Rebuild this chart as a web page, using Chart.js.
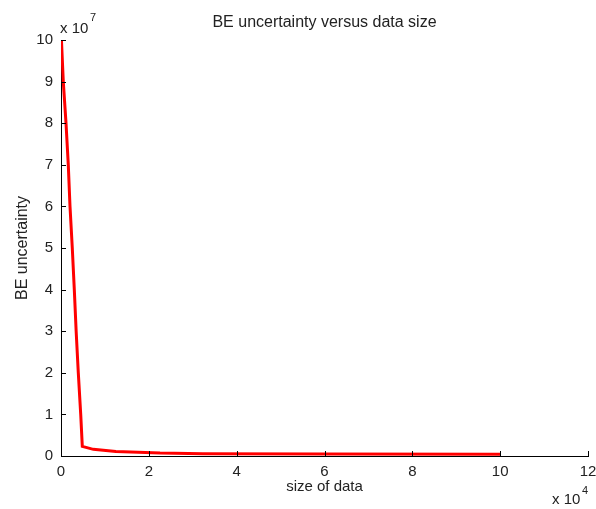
<!DOCTYPE html>
<html lang="en">

<head>
    <meta charset="UTF-8">
    <meta name="viewport" content="width=device-width, initial-scale=1.0">
    <script src="https://cdn.jsdelivr.net/npm/chart.js"></script>
    <title>BE uncertainty versus data size</title>
</head>

<body>
    <div class="chart-wrapper">
        <canvas id="myChart"></canvas>
    </div>
    <style>
        body {
            background-color: #fff;
            margin: 0;
        }

        .chart-wrapper {
            position: relative;
            height: 509px;
            width: 596px;
        }
    </style>
    <script>
        // values
        const data_size = [100, 520, 1140, 1660, 2050, 2570, 3030, 3450, 3940, 4490, 4850, 7360, 12500, 22550, 32300, 60000, 100000];
        const be_uncertainty = [1e8, 9e7, 8e7, 7e7, 6e7, 5e7, 4e7, 3e7, 2e7, 1e7, 2.3e6, 1.6e6, 1.1e6, 7e5, 5.5e5, 5e5, 4.5e5];
        const x_ticks = [0, 2, 4, 6, 8, 10, 12];      // x 10^4
        const y_ticks = [0, 1, 2, 3, 4, 5, 6, 7, 8, 9, 10]; // x 10^7

        const font = "Liberation Sans, Arial, sans-serif";
        const text_color = "#222";

        // matlab style: inward ticks, exponent labels, title over the axes
        const matlabDecor = {
            id: "matlabDecor",
            afterDraw: (chart) => {
                const c = chart.ctx;
                const area = chart.chartArea;
                const xs = chart.scales.x;
                const ys = chart.scales.y;
                c.save();
                c.strokeStyle = "#000";
                c.lineWidth = 1;
                c.beginPath();
                x_ticks.forEach((t) => {
                    const px = Math.round(xs.getPixelForValue(t * 1e4)) + 0.5;
                    c.moveTo(px, area.bottom);
                    c.lineTo(px, area.bottom - 5);
                });
                y_ticks.forEach((t) => {
                    const py = Math.round(ys.getPixelForValue(t * 1e7)) + 0.5;
                    c.moveTo(area.left, py);
                    c.lineTo(area.left + 5, py);
                });
                c.stroke();

                c.fillStyle = text_color;
                c.textBaseline = "alphabetic";
                c.textAlign = "center";
                c.font = `16px ${font}`;
                c.fillText("BE uncertainty versus data size", (area.left + area.right) / 2, 27);

                c.textAlign = "left";
                c.font = `15px ${font}`;
                c.fillText("x 10", area.left - 1, 33);
                c.fillText("x 10", 552, 504);
                c.font = `11px ${font}`;
                c.fillText("7", area.left + 29, 21);
                c.fillText("4", 582, 494);
                c.restore();
            }
        };

        Chart.defaults.font.family = font;
        Chart.defaults.color = text_color;

        const ctx = document.getElementById("myChart");

        new Chart(ctx, {
            type: "line",
            data: {
                datasets: [
                    {
                        label: "BE uncertainty",
                        data: data_size.map((s, i) => ({ x: s, y: be_uncertainty[i] })),
                        borderColor: "#ff0000",
                        borderWidth: 3,
                        pointRadius: 0,
                        tension: 0,
                        fill: false
                    }
                ]
            },
            options: {
                responsive: true,
                maintainAspectRatio: false,
                animation: false,
                layout: {
                    padding: { top: 40, left: 0, right: 0, bottom: 0 }
                },
                scales: {
                    x: {
                        type: "linear",
                        min: 0,
                        max: 120000,
                        afterBuildTicks: (scale) => {
                            scale.ticks = x_ticks.map((t) => ({ value: t * 1e4 }));
                        },
                        afterFit: (scale) => {
                            scale.height = 53;
                            scale.paddingRight = 8;
                        },
                        grid: { display: false, drawTicks: false },
                        border: { display: true, color: "#000", width: 1 },
                        ticks: {
                            padding: 7,
                            maxRotation: 0,
                            font: { size: 15 },
                            callback: (v) => v / 1e4
                        },
                        title: {
                            display: true,
                            text: "size of data",
                            font: { size: 15 },
                            padding: { top: 0, bottom: 13 }
                        }
                    },
                    y: {
                        type: "linear",
                        min: 0,
                        max: 1e8,
                        afterBuildTicks: (scale) => {
                            scale.ticks = y_ticks.map((t) => ({ value: t * 1e7 }));
                        },
                        afterFit: (scale) => { scale.width = 61; },
                        grid: { display: false, drawTicks: false },
                        border: { display: true, color: "#000", width: 1 },
                        ticks: {
                            padding: 8,
                            font: { size: 15 },
                            callback: (v) => v / 1e7
                        },
                        title: {
                            display: true,
                            text: "BE uncertainty",
                            font: { size: 16 },
                            padding: { top: 13, bottom: 0 }
                        }
                    }
                },
                plugins: {
                    legend: { display: false },
                    tooltip: { enabled: false }
                }
            },
            plugins: [matlabDecor]
        });
    </script>
</body>

</html>
